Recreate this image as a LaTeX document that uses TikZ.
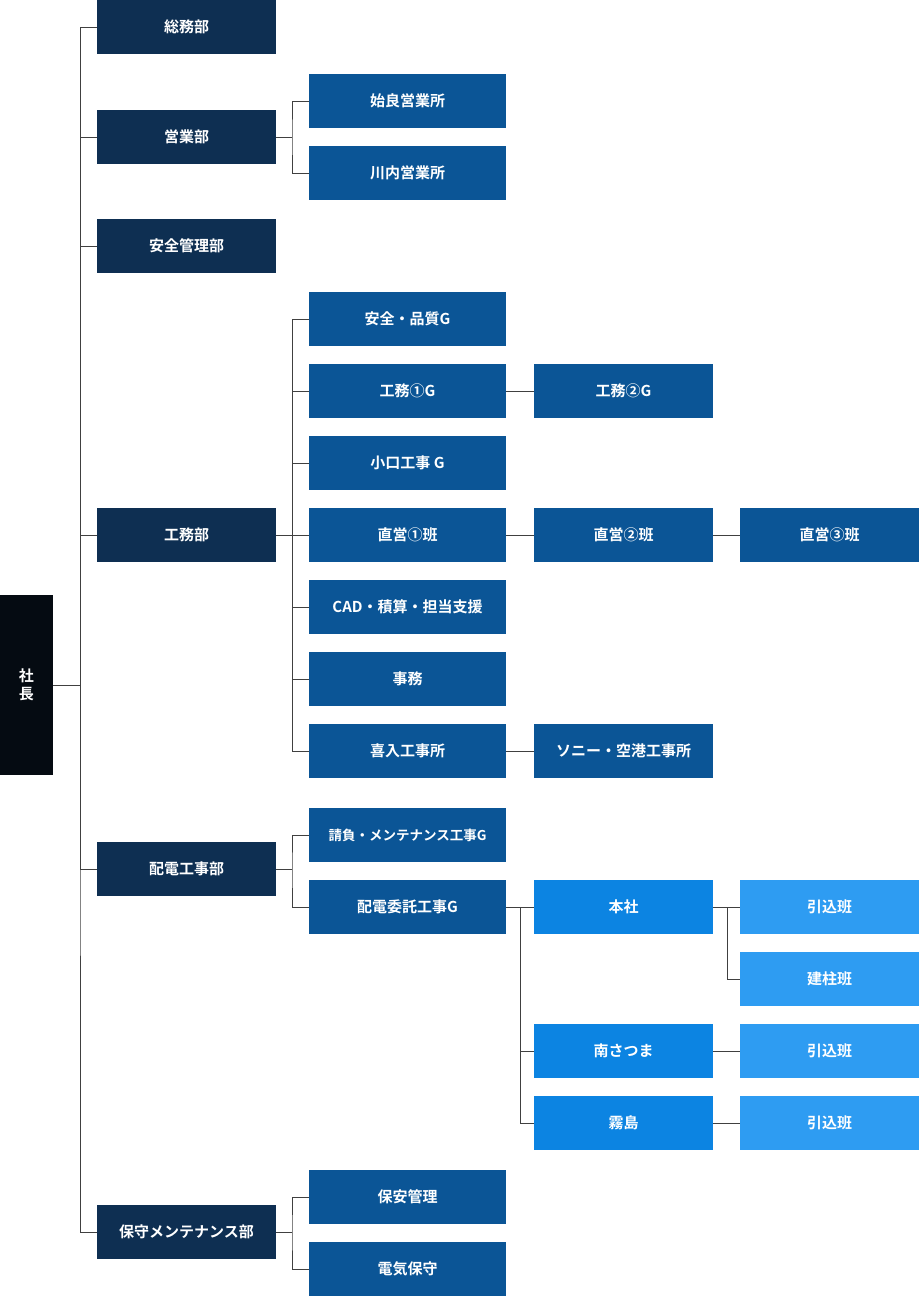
\documentclass[tikz,border=0pt]{standalone}
\usepackage{fontspec}
\setmainfont{Noto Sans CJK JP}[BoldFont={* Bold}]
\begin{document}
\begin{tikzpicture}[x=1pt,y=-1pt,
  bx/.style={draw=none,minimum width=179pt,minimum height=54pt,inner sep=0pt,text=white,font=\bfseries\fontsize{15}{18}\selectfont},
  l1/.style={bx,fill=c1},
  l2/.style={bx,fill=c2,minimum width=197pt},
  l3/.style={bx,fill=c2},
  l3b/.style={bx,fill=c3},
  l4b/.style={bx,fill=c4},
  ln/.style={draw=black!75,line width=0.9pt}]
\definecolor{c0}{HTML}{050B12}
\definecolor{c1}{HTML}{0E2F52}
\definecolor{c2}{HTML}{0B5596}
\definecolor{c3}{HTML}{0C84E2}
\definecolor{c4}{HTML}{2E9CF2}
\useasboundingbox (0,0) rectangle (920,1299);
% CEO
\node[bx,fill=c0,minimum width=53pt,minimum height=180pt,align=center] (ceo) at (26.5,685) {社\\長};
% level 1
\node[l1] (a1) at (186.5,27) {総務部};
\node[l1] (a2) at (186.5,137) {営業部};
\node[l1] (a3) at (186.5,246) {安全管理部};
\node[l1] (a4) at (186.5,535) {工務部};
\node[l1] (a5) at (186.5,869) {配電工事部};
\node[l1] (a6) at (186.5,1232) {保守メンテナンス部};
% level 2
\node[l2] (b1) at (407.5,101) {始良営業所};
\node[l2] (b2) at (407.5,173) {川内営業所};
\node[l2] (c1) at (407.5,319) {安全・品質G};
\node[l2] (c2) at (407.5,391) {工務①G};
\node[l2] (c3) at (407.5,463) {小口工事 G};
\node[l2] (c4) at (407.5,535) {直営①班};
\node[l2] (c5) at (407.5,607) {CAD・積算・担当支援};
\node[l2] (c6) at (407.5,679) {事務};
\node[l2] (c7) at (407.5,751) {喜入工事所};
\node[l2,font=\bfseries\fontsize{13.5}{16}\selectfont] (d1) at (407.5,835) {請負・メンテナンス工事G};
\node[l2] (d2) at (407.5,907) {配電委託工事G};
\node[l2] (e1) at (407.5,1197) {保安管理};
\node[l2] (e2) at (407.5,1269) {電気保守};
% level 3
\node[l3] (c2b) at (623.5,391) {工務②G};
\node[l3] (c4b) at (623.5,535) {直営②班};
\node[l3] (c7b) at (623.5,751) {ソニー・空港工事所};
\node[l3b] (f1) at (623.5,907) {本社};
\node[l3b] (f2) at (623.5,1051) {南さつま};
\node[l3b] (f3) at (623.5,1123) {霧島};
% level 4
\node[l3] (c4c) at (829.5,535) {直営③班};
\node[l4b] (g1) at (829.5,907) {引込班};
\node[l4b] (g2) at (829.5,979) {建柱班};
\node[l4b] (g3) at (829.5,1051) {引込班};
\node[l4b] (g4) at (829.5,1123) {引込班};
% trunk
\coordinate (t) at (80,685);
\draw[ln] (ceo.east) -- (t);
\draw[ln] (a1.west) -| (t) |- (a6.west);
\foreach \n in {a2,a3,a4,a5} \draw[ln] (a1.west -| t) |- (\n.west);
% 営業部
\coordinate (s2) at (292,137);
\draw[ln] (a2.east) -- (s2);
\draw[ln] (b1.west) -| (s2) |- (b2.west);
% 工務部
\coordinate (s4) at (292,535);
\draw[ln] (a4.east) -- (c4.west);
\draw[ln] (c1.west) -| (s4) |- (c7.west);
\foreach \n in {c2,c3,c5,c6} \draw[ln] (s4) |- (\n.west);
\draw[ln] (c2.east) -- (c2b.west);
\draw[ln] (c4.east) -- (c4b.west);
\draw[ln] (c4b.east) -- (c4c.west);
\draw[ln] (c7.east) -- (c7b.west);
% 配電工事部
\coordinate (s5) at (292,869);
\draw[ln] (a5.east) -- (s5);
\draw[ln] (d1.west) -| (s5) |- (d2.west);
\coordinate (s6) at (520,907);
\draw[ln] (d2.east) -- (f1.west);
\draw[ln] (s6) |- (f3.west);
\draw[ln] (s6) |- (f2.west);
\coordinate (s7) at (727,907);
\draw[ln] (f1.east) -- (g1.west);
\draw[ln] (s7) |- (g2.west);
\draw[ln] (f2.east) -- (g3.west);
\draw[ln] (f3.east) -- (g4.west);
% 保守
\coordinate (s8) at (292,1232);
\draw[ln] (a6.east) -- (s8);
\draw[ln] (e1.west) -| (s8) |- (e2.west);
\end{tikzpicture}
\end{document}
